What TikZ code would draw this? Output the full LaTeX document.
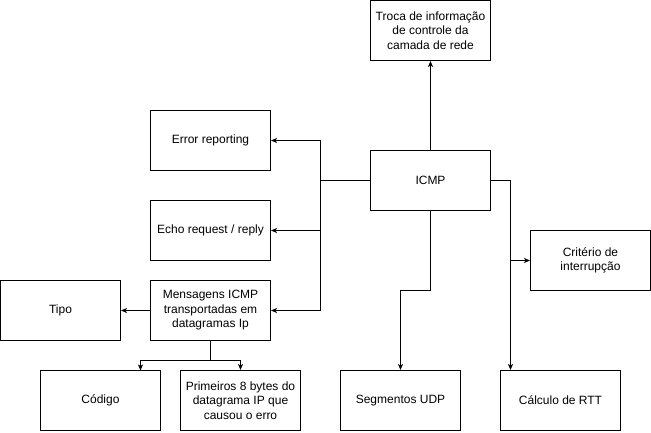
\documentclass[tikz,border=0pt]{standalone}
\usepackage{fontspec}
\setmainfont{Liberation Sans}
\usetikzlibrary{arrows.meta,calc}
\begin{document}
\begin{tikzpicture}[x=1pt,y=-1pt,
  box/.style={draw,line width=1pt,minimum width=120pt,minimum height=60pt,inner sep=0pt,align=center,font=\fontsize{12}{14.5}\selectfont},
  arr/.style={draw,line width=1pt,-{Stealth[length=6pt,width=5pt,inset=1.5pt]}}]
\useasboundingbox (0,0) rectangle (651,432);
\node[box] (troca) at (430.5,30.5) {Troca de informação\\de controle da\\camada de rede};
\node[box] (icmp) at (430.5,180.5) {ICMP};
\node[box] (err) at (210.5,140.5) {Error reporting};
\node[box] (echo) at (210.5,230.5) {Echo request / reply};
\node[box] (msg) at (210.5,310.5) {Mensagens ICMP\\transportadas em\\datagramas Ip};
\node[box] (tipo) at (60.5,310.5) {Tipo};
\node[box] (cod) at (100.5,400.5) {Código};
\node[box] (prim) at (240.5,400.5) {Primeiros 8 bytes do\\datagrama IP que\\causou o erro};
\node[box] (udp) at (400.5,400.5) {Segmentos UDP};
\node[box] (calc) at (560.5,400.5) {Cálculo de RTT};
\node[box] (crit) at (590.5,260.5) {Critério de\\interrupção};
\coordinate (jl) at (320.5,180.5);
\coordinate (jr) at (510.5,180.5);
\coordinate (jb) at (430.5,290.5);
\coordinate (jm) at (210.5,360.5);
\coordinate (cj) at (140.5,370.5);
\draw[arr] (icmp.north) -- (troca.south);
\draw[arr] (icmp.west) -- (jl) |- (err.east);
\draw[arr] (jl) |- (echo.east);
\draw[arr] (jl) |- (msg.east);
\draw[arr] (icmp.east) -- (jr) |- (crit.west);
\draw[arr] (jr) -- (jr |- calc.north);
\draw[arr] (icmp.south) -- (jb) -| (udp.north);
\draw[arr] (msg.west) -- (tipo.east);
\draw[arr] (msg.south) -- (jm) -| (cj);
\draw[arr] (jm) -| (prim.north);
\end{tikzpicture}
\end{document}
